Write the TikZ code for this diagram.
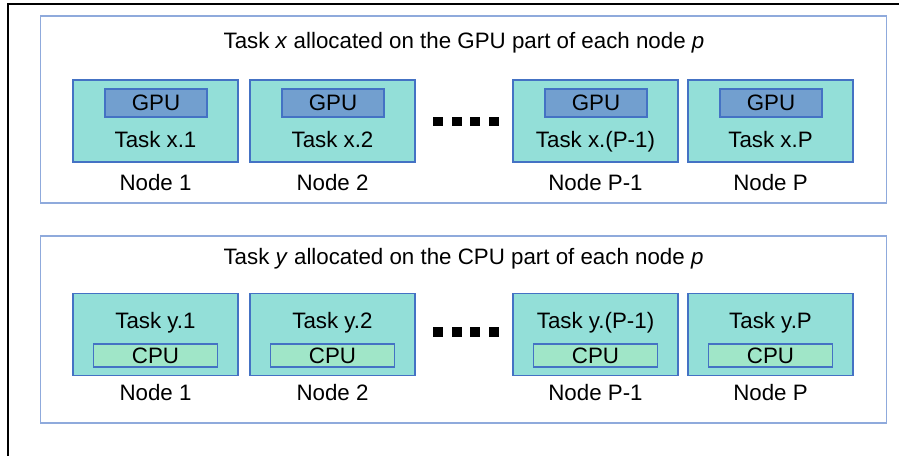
\documentclass[tikz,border=0pt]{standalone}
\usepackage{fontspec}
\setmainfont{Liberation Sans}
\usepackage{tikz}

\definecolor{nodefill}{HTML}{93DFD8}
\definecolor{nodeline}{HTML}{4472C4}
\definecolor{gpufill}{HTML}{729FCF}
\definecolor{cpufill}{HTML}{A0E6C8}
\definecolor{panelline}{HTML}{8FAADC}

\begin{document}
\begin{tikzpicture}[x=0.02cm, y=-0.02cm,
  every node/.style={font=\fontsize{12.7}{15}\selectfont, inner sep=0pt},
  panel/.style={draw=panelline, line width=0.6pt, minimum width=16.94cm, minimum height=3.74cm},
  nodebox/.style={draw=nodeline, fill=nodefill, line width=0.6pt, minimum width=3.3cm, minimum height=1.64cm},
  gpubox/.style={draw=nodeline, fill=gpufill, line width=0.6pt, minimum width=2.04cm, minimum height=0.56cm},
  cpubox/.style={draw=nodeline, fill=cpufill, line width=0.6pt, minimum width=2.48cm, minimum height=0.46cm},
  txt/.style={anchor=base},
  dot/.style={fill=black, minimum size=0.2cm}]

\useasboundingbox (0,0) rectangle (899,456);

% outer frame, only top and left edge show
\draw[line width=0.6pt] (8,456) -- (8,4) -- (899,4);

% the two panels
\path
(463.5,109.5) node[panel] (gpanel) {}
(463.5,329.5) node[panel] (cpanel) {};

\path
(464,49) node[txt] (gtitle) {Task \textit{x} allocated on the GPU part of each node \textit{p}}
(463.5,264) node[txt] (ctitle) {Task \textit{y} allocated on the CPU part of each node \textit{p}};

%% GPU row
\foreach \cx/\idx/\nm [count=\k] in {155.5/1/Node 1, 332.5/2/Node 2, 595.5/(P-1)/Node P-1, 770.5/P/Node P}
  {
    \node[nodebox] (gnode\k) at (\cx,121) {};
    \node[gpubox] (gpu\k) at (\cx+0.5,103) {GPU};
    \node[txt] (gtask\k) at (\cx,148) {Task x.\idx};
    \node[txt] (glabel\k) at (\cx,190) {\nm};
  }

%% CPU row
\foreach \cx/\idx/\nm [count=\k] in {155.5/1/Node 1, 332.5/2/Node 2, 595.5/(P-1)/Node P-1, 770.5/P/Node P}
  {
    \node[nodebox] (cnode\k) at (\cx,334.5) {};
    \node[txt] (ctask\k) at (\cx,328) {Task y.\idx};
    \node[cpubox] (cpu\k) at (\cx,355.5) {CPU};
    \node[txt] (clabel\k) at (\cx,400) {\nm};
  }

% dots between node 2 and node P-1
\foreach \i in {0,...,3}
  {
    \node[dot] (gdot\i) at (438+18.7*\i,121.5) {};
    \node[dot] (cdot\i) at (438+18.7*\i,332) {};
  }

\end{tikzpicture}
\end{document}
